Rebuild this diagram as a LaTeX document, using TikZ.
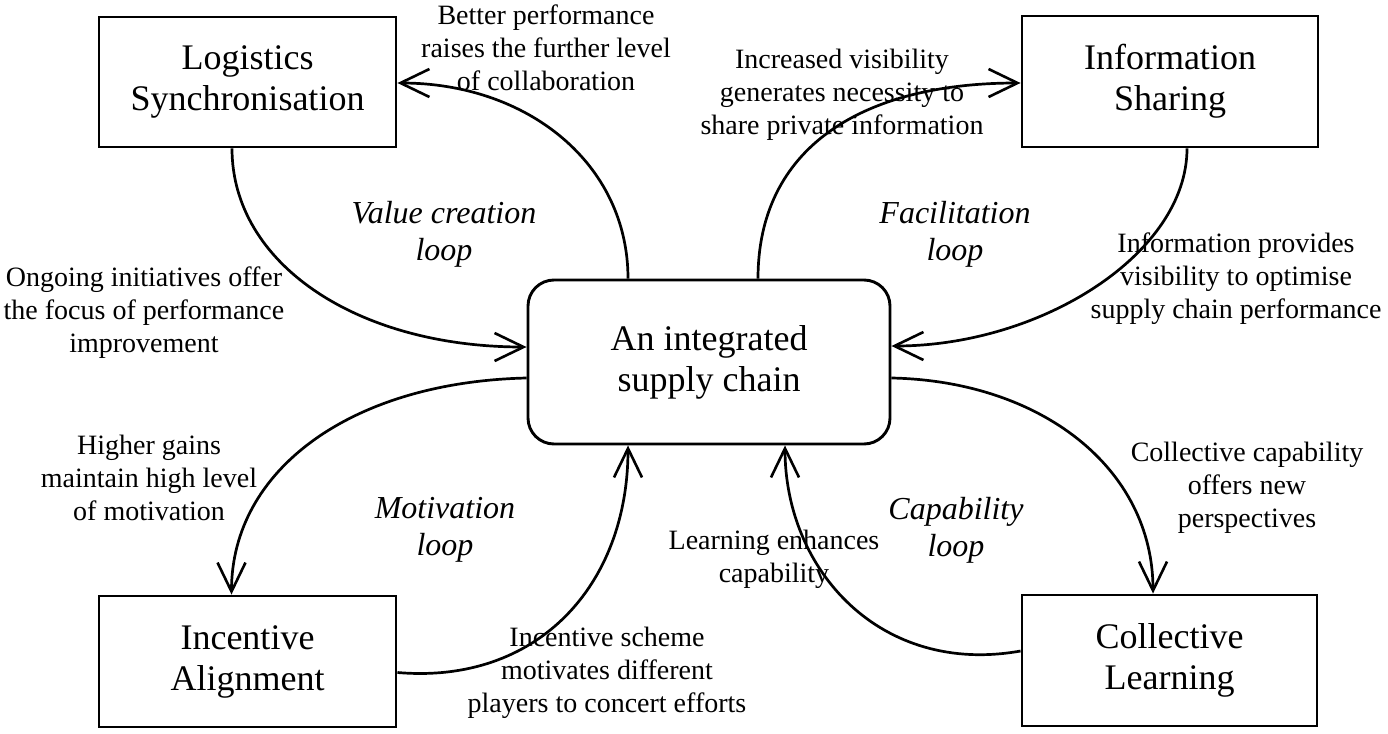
\documentclass[tikz,border=0pt]{standalone}
\usepackage{fontspec}
\setmainfont{Liberation Serif}
\usetikzlibrary{arrows.meta,calc}
\newcommand\boxfnt{\fontsize{36}{41}\selectfont}
\newcommand\lblfnt{\fontsize{28}{33}\selectfont}
\newcommand\loopfnt{\fontsize{32}{37}\selectfont\itshape}
\tikzset{
  box/.style={draw, line width=2.9pt, align=center, font=\boxfnt, inner sep=0pt},
  hub/.style={box, rounded corners=26pt},
  lbl/.style={align=center, font=\lblfnt, inner sep=0pt},
  looplbl/.style={align=center, font=\loopfnt, inner sep=0pt},
  conn/.style={line width=2.7pt, -{Straight Barb[length=29pt,width=28pt,line width=2.6pt]}}
}
\begin{document}
\begin{tikzpicture}[x=1pt,y=-1pt]
\useasboundingbox (0,0) rectangle (1388,733);
% boxes
\node[box, minimum width=297pt, minimum height=130pt] (LS) at (247.5,82) {Logistics\\Synchronisation};
\node[box, minimum width=296pt, minimum height=131pt] (IS) at (1170,81.5) {Information\\Sharing};
\node[box, minimum width=297pt, minimum height=131pt] (IA) at (247.5,661.5) {Incentive\\Alignment};
\node[box, minimum width=295pt, minimum height=131pt] (CL) at (1169.5,660.5) {Collective\\Learning};
\node[hub, minimum width=362pt, minimum height=164pt] (SC) at (709,362) {An integrated\\supply chain};
% anchor points
\coordinate (ls-s) at ($(LS.south)+(-15.5,0)$);
\coordinate (ls-e) at ($(LS.east)+(0,1)$);
\coordinate (is-w) at ($(IS.west)+(0,1.5)$);
\coordinate (is-s) at ($(IS.south)+(17,0)$);
\coordinate (ia-n) at ($(IA.north)+(-16,0)$);
\coordinate (ia-e) at ($(IA.east)+(0,11)$);
\coordinate (cl-n) at ($(CL.north)+(-16.5,0)$);
\coordinate (cl-w) at ($(CL.west)+(0,-9.5)$);
\coordinate (sc-w1) at ($(SC.west)+(0,-15)$);
\coordinate (sc-w2) at ($(SC.west)+(0,16)$);
\coordinate (sc-e1) at ($(SC.east)+(0,-16)$);
\coordinate (sc-e2) at ($(SC.east)+(0,16)$);
\coordinate (sc-n1) at ($(SC.north)+(-81,0)$);
\coordinate (sc-n2) at ($(SC.north)+(49,0)$);
\coordinate (sc-s1) at ($(SC.south)+(-81,0)$);
\coordinate (sc-s2) at ($(SC.south)+(76,0)$);
% value creation loop
\draw[conn] (ls-s) .. controls +(0,115) and +(-170,0) .. (sc-w1);
\draw[conn] (sc-n1) .. controls +(0,-115) and +(130,0) .. (ls-e);
% facilitation loop
\draw[conn] (sc-n2) .. controls +(0,-130) and +(-160,0) .. (is-w);
\draw[conn] (is-s) .. controls +(0,105) and +(150,0) .. (sc-e1);
% motivation loop
\draw[conn] (sc-w2) .. controls +(-175,4) and +(0,-125) .. (ia-n);
\draw[conn] (ia-e) .. controls +(140,12) and +(0,140) .. (sc-s1);
% capability loop
\draw[conn] (sc-e2) .. controls +(150,3) and +(0,-125) .. (cl-n);
\draw[conn] (cl-w) .. controls +(-140,25) and +(0,125) .. (sc-s2);
% labels
\node[lbl] (t1) at (546,48) {Better performance\\raises the further level\\of collaboration};
\node[lbl] (t2) at (842,95) {Increased visibility\\generates necessity to\\share private information};
\node[lbl] (t3) at (144,313) {Ongoing initiatives offer\\the focus of performance\\improvement};
\node[lbl] (t4) at (1236,279) {Information provides\\visibility to optimise\\supply chain performance};
\node[lbl] (t5) at (149,478) {Higher gains\\maintain high level\\of motivation};
\node[lbl] (t6) at (1247,488) {Collective capability\\offers new\\perspectives};
\node[lbl] (t7) at (774,559) {Learning enhances\\capability};
\node[lbl] (t8) at (607,673) {Incentive scheme\\motivates different\\players to concert efforts};
\node[looplbl] (l1) at (444,234) {Value creation\\loop};
\node[looplbl] (l2) at (955,234) {Facilitation\\loop};
\node[looplbl] (l3) at (445,530) {Motivation\\loop};
\node[looplbl] (l4) at (956,530) {Capability\\loop};
\end{tikzpicture}
\end{document}
